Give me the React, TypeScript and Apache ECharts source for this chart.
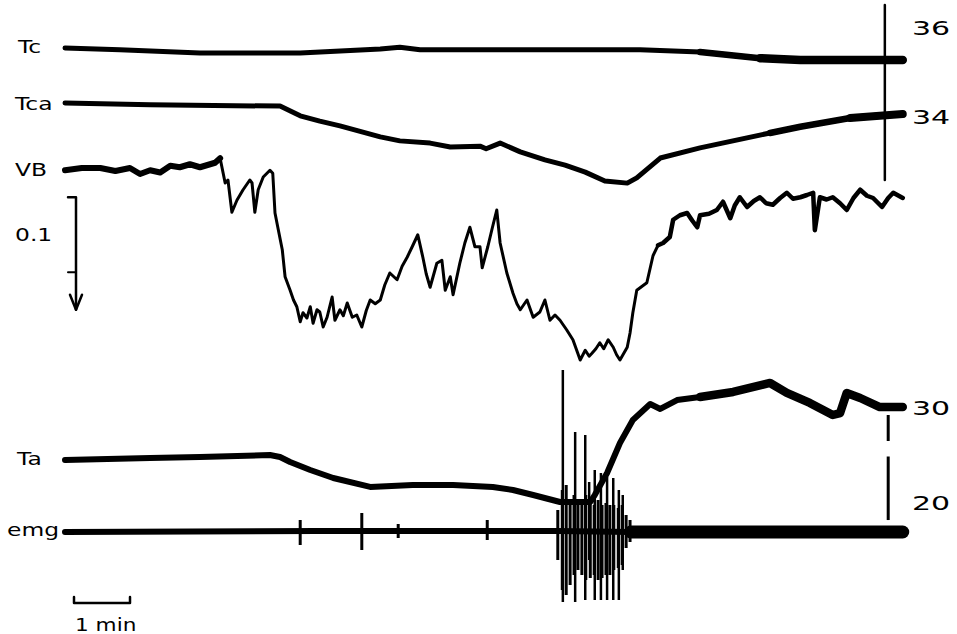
import React, { useEffect, useRef } from "react";
import * as echarts from "echarts";

// time in minutes from start of trace; temperatures in °C; VB in scale units (0.1 bar); emg in arbitrary units
const TC: [number, number][] = [
  [0, 35.59], [0.98, 35.55], [2.41, 35.48], [4.2, 35.48], [5.63, 35.57], [5.98, 35.61], [6.34, 35.55],
  [7.77, 35.55], [9.55, 35.55], [10.27, 35.55], [11.34, 35.5], [12.41, 35.36], [13.13, 35.32], [14.96, 35.32],
];

const TCA: [number, number][] = [
  [0, 34.34], [1.52, 34.3], [3.84, 34.27], [4.2, 34.05], [4.55, 33.93], [4.91, 33.82], [5.63, 33.57],
  [5.98, 33.48], [6.52, 33.43], [6.88, 33.34], [7.41, 33.36], [7.52, 33.3], [7.77, 33.43], [8.13, 33.23],
  [8.57, 33.05], [8.93, 32.93], [9.29, 32.77], [9.64, 32.57], [10.04, 32.52], [10.21, 32.64], [10.63, 33.09],
  [11.34, 33.32], [12.59, 33.66], [13.13, 33.8], [14.02, 34.0], [14.96, 34.09],
];

const VB: [number, number][] = [
  [0, 0.003], [0.3, 0.0], [0.63, 0.0], [0.9, 0.004], [1.16, 0.0], [1.34, 0.008], [1.52, 0.003], [1.7, 0.006],
  [1.88, -0.003], [2.05, -0.001], [2.23, -0.005], [2.41, -0.001], [2.68, -0.007], [2.77, -0.013], [2.86, 0.02],
  [2.91, 0.016], [2.98, 0.059], [3.07, 0.043], [3.18, 0.029], [3.3, 0.016], [3.34, 0.02], [3.39, 0.059],
  [3.45, 0.029], [3.54, 0.012], [3.66, 0.003], [3.71, 0.007], [3.75, 0.06], [3.8, 0.079], [3.88, 0.109],
  [3.93, 0.145], [4.02, 0.163], [4.08, 0.176], [4.14, 0.185], [4.2, 0.205], [4.25, 0.193], [4.32, 0.2],
  [4.38, 0.185], [4.43, 0.207], [4.5, 0.189], [4.55, 0.192], [4.61, 0.212], [4.68, 0.199], [4.77, 0.172],
  [4.82, 0.203], [4.91, 0.189], [4.97, 0.197], [5.04, 0.18], [5.13, 0.199], [5.21, 0.196], [5.3, 0.212],
  [5.38, 0.19], [5.45, 0.176], [5.54, 0.181], [5.63, 0.176], [5.71, 0.156], [5.8, 0.14], [5.93, 0.149],
  [6.02, 0.131], [6.11, 0.119], [6.2, 0.105], [6.3, 0.089], [6.39, 0.119], [6.45, 0.141], [6.52, 0.159],
  [6.64, 0.127], [6.73, 0.123], [6.79, 0.163], [6.88, 0.145], [6.93, 0.169], [7.05, 0.127], [7.14, 0.1],
  [7.23, 0.079], [7.32, 0.105], [7.41, 0.105], [7.45, 0.133], [7.55, 0.105], [7.63, 0.08], [7.71, 0.056],
  [7.77, 0.1], [7.89, 0.14], [8.0, 0.167], [8.07, 0.181], [8.13, 0.189], [8.25, 0.176], [8.36, 0.199],
  [8.48, 0.192], [8.57, 0.176], [8.66, 0.203], [8.75, 0.196], [8.84, 0.203], [8.96, 0.216], [9.07, 0.229],
  [9.2, 0.256], [9.29, 0.243], [9.36, 0.251], [9.41, 0.247], [9.48, 0.241], [9.55, 0.233], [9.62, 0.241],
  [9.7, 0.229], [9.79, 0.239], [9.85, 0.249], [9.91, 0.256], [10.04, 0.239], [10.09, 0.22], [10.14, 0.193],
  [10.21, 0.163], [10.3, 0.158], [10.39, 0.153], [10.5, 0.117], [10.59, 0.103], [10.68, 0.1], [10.8, 0.092],
  [10.86, 0.069], [10.98, 0.063], [11.11, 0.06], [11.2, 0.07], [11.29, 0.079], [11.34, 0.063], [11.5, 0.061],
  [11.64, 0.056], [11.75, 0.045], [11.88, 0.067], [11.96, 0.05], [12.05, 0.039], [12.18, 0.052],
  [12.3, 0.044], [12.41, 0.039], [12.52, 0.047], [12.64, 0.049], [12.77, 0.04], [12.89, 0.033],
  [13.0, 0.041], [13.13, 0.039], [13.25, 0.036], [13.36, 0.033], [13.39, 0.083], [13.48, 0.039],
  [13.6, 0.042], [13.71, 0.039], [13.84, 0.047], [13.96, 0.056], [14.08, 0.04], [14.2, 0.029], [14.32, 0.037],
  [14.43, 0.04], [14.59, 0.052], [14.7, 0.04], [14.79, 0.033], [14.96, 0.04],
];

const TA: [number, number][] = [
  [0, 24.64], [1.52, 24.85], [2.41, 24.95], [3.66, 25.15], [3.84, 24.95], [4.02, 24.43], [4.38, 23.61],
  [4.79, 22.78], [5.45, 21.86], [6.21, 22.06], [6.93, 22.06], [7.64, 21.86], [8.0, 21.55], [8.36, 21.03],
  [8.84, 20.31], [9.38, 20.31], [9.46, 21.03], [9.68, 23.3], [9.91, 26.39], [10.14, 28.76], [10.45, 30.41],
  [10.63, 29.9], [10.93, 30.82], [11.34, 31.13], [11.93, 31.65], [12.59, 32.58], [12.89, 31.55],
  [13.3, 30.52], [13.71, 29.28], [13.84, 29.48], [13.96, 31.55], [14.2, 31.03], [14.55, 30.1], [14.96, 30.1],
];

const EMG_BASE: [number, number][] = [[0, 0], [4.5, 0.1], [8.8, 0.1], [10.1, 0], [14.96, 0]];
// [time, top, bottom]
const EMG_SPIKES: [number, number, number][] = [
  [8.89, 16.2, -7.0], [9.11, 10.0, -7.0], [9.29, 9.7, -6.8], [9.36, 5.0, -2.8], [9.46, 6.2, -6.8],
  [9.57, 5.9, -6.8], [9.68, 5.5, -6.8], [9.79, 5.4, -6.8], [9.89, 4.2, -6.8], [9.96, 3.7, -3.8],
];
const EMG_BURSTS: [number, number, number][] = [
  [4.2, 1.2, -1.3], [5.3, 1.9, -1.8], [5.95, 0.8, -0.6], [7.54, 1.2, -0.8],
  [8.8, 2.2, -2.8], [8.88, 4.2, -5.8], [8.95, 4.7, -6.3], [9.02, 3.2, -5.3], [9.09, 3.7, -4.3],
  [9.16, 3.2, -3.8], [9.23, 2.7, -4.3], [9.3, 3.7, -4.8], [9.38, 3.2, -4.6], [9.45, 2.7, -4.3],
  [9.52, 3.2, -4.8], [9.59, 2.7, -4.6], [9.66, 2.9, -4.3], [9.73, 2.7, -4.3], [9.8, 2.7, -3.8],
  [9.88, 2.4, -3.6], [9.95, 2.7, -3.3], [10.02, 1.7, -1.6], [10.09, 1.2, -1.0],
];

// calibration marks
const CAL_T: [number, number][] = [[14.64, 36.57], [14.64, 32.59]];
const CAL_TA: [number, number, number][] = [[14.7, 29.28, 26.6], [14.7, 25.0, 18.45]];

const LEFT_LABELS = ["Tc", "Tca", "VB", "0.1", "Ta", "emg"];
const RIGHT_LABELS = ["36", "34", "30", "20"];
const TIME_LABEL = "1 min";
const VB_SCALE = 0.1;

// layout (pixels)
const W = 957, H = 634;
const X0 = 65, PX_PER_MIN = 56;

export default function App() {
  const ref = useRef<HTMLDivElement>(null);
  useEffect(() => {
    const chart = echarts.init(ref.current!, null, { renderer: "svg" });
    const seg = (arr: [number, number][], a: number, b: number) => arr.filter((p) => p[0] >= a && p[0] <= b);
    const line = (data: any[], yAxisIndex: number, width: number) => ({
      type: "line", data, yAxisIndex, xAxisIndex: 0, symbol: "none", silent: true,
      lineStyle: { color: "#000", width, cap: "round", join: "round" },
    });
    const vlines = (data: any[], yAxisIndex: number, width: number) => ({
      type: "custom", data, yAxisIndex, xAxisIndex: 0, silent: true,
      encode: { x: 0, y: [1, 2] },
      renderItem: (_p: any, api: any) => {
        const t = api.value(0);
        const a = api.coord([t, api.value(1)]);
        const b = api.coord([t, api.value(2)]);
        return { type: "line", shape: { x1: a[0], y1: a[1], x2: b[0], y2: b[1] }, style: { stroke: "#000", lineWidth: width } };
      },
    });

    // VB scale bar in VB units
    const tBar = (76 - X0) / PX_PER_MIN;
    const tTick = (68 - X0) / PX_PER_MIN;
    const vTop = 0.039;
    const vMid = vTop + VB_SCALE;
    const vTip = 0.189;
    const wing = 6 / PX_PER_MIN;
    // time bar on emg axis
    const tb0 = (74 - X0) / PX_PER_MIN;

    const leftY = [47, 104, 170, 235, 459, 530];
    const leftX = [18, 15, 15, 15, 17, 7];
    const rightY = [28, 117, 408, 503];
    const font = "DejaVu Sans";
    const txt = (text: string, x: number, y: number, size: number, sx: number) => ({
      type: "text", x, y, scaleX: sx, silent: true,
      style: { text, fill: "#000", fontSize: size, fontFamily: font, verticalAlign: "middle", align: "left" },
    });

    chart.setOption({
      animation: false,
      backgroundColor: "#fff",
      grid: { left: 0, right: 0, top: 0, bottom: 0 },
      xAxis: { type: "value", min: -X0 / PX_PER_MIN, max: (W - X0) / PX_PER_MIN, show: false },
      yAxis: [
        { type: "value", min: 36 - (H - 30) / 44, max: 36 + 30 / 44, show: false },
        { type: "value", min: -168 / 750, max: (H - 168) / 750, inverse: true, show: false },
        { type: "value", min: 30 - (H - 408) / 9.7, max: 30 + 408 / 9.7, show: false },
        { type: "value", min: (532 - H) / 10, max: 53.2, show: false },
      ],
      series: [
        line(TC, 0, 5),
        line(seg(TC, 11.34, 15), 0, 6.5),
        line(seg(TC, 12.41, 15), 0, 8.5),
        line(TCA, 0, 5),
        line(seg(TCA, 12.59, 15), 0, 6.5),
        line(seg(TCA, 14.02, 15), 0, 8),
        line(CAL_T, 0, 2.5),
        line(seg(VB, 0, 2.77), 1, 6),
        line(seg(VB, 2.77, 10.59), 1, 3),
        line(seg(VB, 10.59, 15), 1, 4.5),
        line([[tTick, vTop], [tBar, vTop], [tBar, vTip]], 1, 2.5),
        line([[tTick, vMid], [tBar, vMid]], 1, 2),
        line([[tBar - wing, vTip - 0.02], [tBar, vTip], [tBar + wing, vTip - 0.02]], 1, 2.5),
        line(TA, 2, 6),
        line(seg(TA, 11.34, 15), 2, 8.5),
        vlines(CAL_TA, 2, 3),
        line(EMG_BASE, 3, 6),
        line(seg(EMG_BASE, 10.0, 15), 3, 13),
        vlines(EMG_BURSTS, 3, 3),
        vlines(EMG_SPIKES, 3, 2.5),
        line([[tb0, -6.5], [tb0, -7.1], [tb0 + 1, -7.1], [tb0 + 1, -6.5]], 3, 2.5),
      ],
      graphic: [
        ...LEFT_LABELS.map((s, i) => txt(s, leftX[i], leftY[i], 18, 1.3)),
        ...RIGHT_LABELS.map((s, i) => txt(s, 912, rightY[i], 20, 1.5)),
        txt(TIME_LABEL, 75, 625, 18, 1.2),
      ],
    });
    return () => chart.dispose();
  }, []);
  return <div ref={ref} style={{ position: "fixed", left: 0, top: 0, width: W, height: H, background: "#fff" }} />;
}
